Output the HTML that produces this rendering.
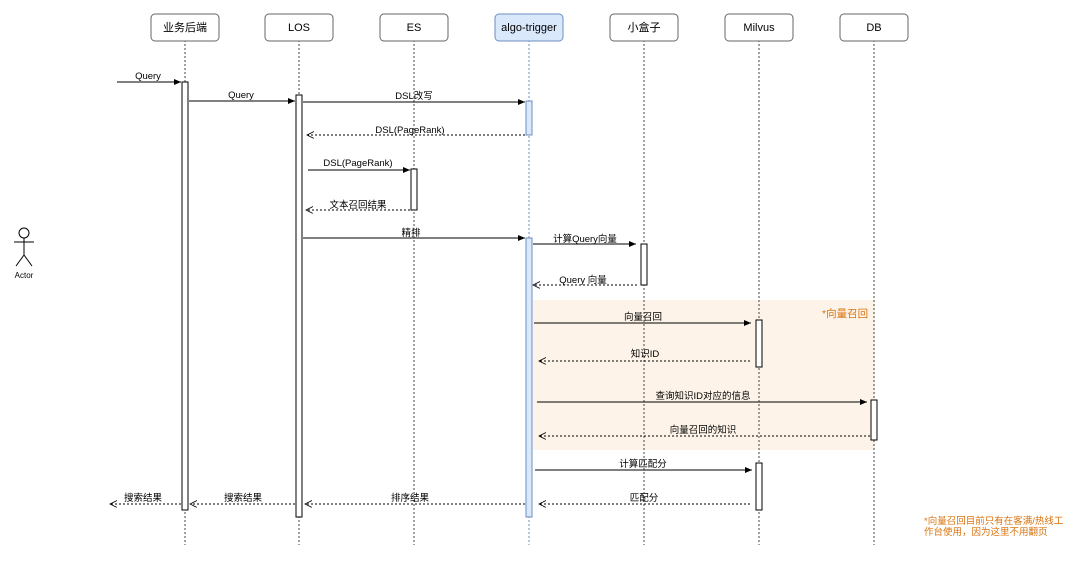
<!DOCTYPE html>
<html><head><meta charset="utf-8"><style>
body{margin:0;background:#fff;}
svg text{font-family:"Liberation Sans","Noto Sans CJK SC",sans-serif;}
</style></head><body>
<svg width="1080" height="560" xmlns="http://www.w3.org/2000/svg">
<defs>
<marker id="s" markerWidth="8" markerHeight="8" refX="7" refY="3" orient="auto" markerUnits="userSpaceOnUse"><path d="M0,0 L7,3 L0,6 z" fill="#000"/></marker>
<marker id="o" markerWidth="8" markerHeight="8" refX="7" refY="3.5" orient="auto" markerUnits="userSpaceOnUse"><path d="M0,0 L7,3.5 L0,7" fill="none" stroke="#000" stroke-width="0.8"/></marker>
</defs>
<rect x="533" y="300" width="342" height="150" fill="#fdf3e8"/>
<g stroke="#444" stroke-width="1" stroke-dasharray="2,2">
<line x1="185" y1="40" x2="185" y2="545"/><line x1="299" y1="40" x2="299" y2="545"/>
<line x1="414" y1="40" x2="414" y2="545"/><line x1="529" y1="40" x2="529" y2="545" stroke="#6c8ebf"/>
<line x1="644" y1="40" x2="644" y2="545"/><line x1="759" y1="40" x2="759" y2="545"/>
<line x1="874" y1="40" x2="874" y2="545"/>
</g>
<g stroke="#666" fill="#fff" stroke-width="1">
<rect x="151" y="14" width="68" height="27" rx="4"/><rect x="265" y="14" width="68" height="27" rx="4"/>
<rect x="380" y="14" width="68" height="27" rx="4"/><rect x="495" y="14" width="68" height="27" rx="4" fill="#dae8fc" stroke="#6c8ebf"/>
<rect x="610" y="14" width="68" height="27" rx="4"/><rect x="725" y="14" width="68" height="27" rx="4"/>
<rect x="840" y="14" width="68" height="27" rx="4"/>
</g>
<g font-size="11" text-anchor="middle" fill="#000">
<text x="185" y="31">业务后端</text><text x="299" y="31">LOS</text><text x="414" y="31">ES</text>
<text x="529" y="31">algo-trigger</text><text x="644" y="31">小盒子</text><text x="759" y="31">Milvus</text><text x="874" y="31">DB</text>
</g>
<g stroke="#000" fill="#fff" stroke-width="1">
<rect x="182" y="82" width="6" height="428"/><rect x="296" y="95" width="6" height="422"/>
<rect x="411" y="169" width="6" height="41"/><rect x="641" y="244" width="6" height="41"/>
<rect x="756" y="320" width="6" height="47"/><rect x="756" y="463" width="6" height="47"/>
<rect x="871" y="400" width="6" height="40"/>
<rect x="526" y="101" width="6" height="34" fill="#dae8fc" stroke="#6c8ebf"/>
<rect x="526" y="238" width="6" height="279" fill="#dae8fc" stroke="#6c8ebf"/>
</g>
<g stroke="#000" stroke-width="1" fill="none">
<line x1="117" y1="82" x2="181" y2="82" marker-end="url(#s)"/>
<line x1="189" y1="101" x2="295" y2="101" marker-end="url(#s)"/>
<line x1="303" y1="102" x2="525" y2="102" marker-end="url(#s)"/>
<line x1="308" y1="170" x2="410" y2="170" marker-end="url(#s)"/>
<line x1="303" y1="238" x2="525" y2="238" marker-end="url(#s)"/>
<line x1="533" y1="244" x2="636" y2="244" marker-end="url(#s)"/>
<line x1="534" y1="323" x2="751" y2="323" marker-end="url(#s)"/>
<line x1="537" y1="402" x2="867" y2="402" marker-end="url(#s)"/>
<line x1="535" y1="470" x2="752" y2="470" marker-end="url(#s)"/>
<g stroke-dasharray="2,2">
<line x1="525" y1="135" x2="307" y2="135" marker-end="url(#o)"/>
<line x1="410" y1="210" x2="306" y2="210" marker-end="url(#o)"/>
<line x1="637" y1="285" x2="533" y2="285" marker-end="url(#o)"/>
<line x1="750" y1="361" x2="539" y2="361" marker-end="url(#o)"/>
<line x1="870" y1="436" x2="539" y2="436" marker-end="url(#o)"/>
<line x1="750" y1="504" x2="539" y2="504" marker-end="url(#o)"/>
<line x1="525" y1="504" x2="305" y2="504" marker-end="url(#o)"/>
<line x1="295" y1="504" x2="190" y2="504" marker-end="url(#o)"/>
<line x1="181" y1="504" x2="110" y2="504" marker-end="url(#o)"/>
</g>
</g>
<g font-size="9.5" text-anchor="middle" fill="#000">
<text x="148" y="79">Query</text><text x="241" y="98">Query</text><text x="414" y="99">DSL改写</text>
<text x="410" y="133">DSL(PageRank)</text><text x="358" y="166">DSL(PageRank)</text><text x="358" y="208">文本召回结果</text>
<text x="411" y="236">精排</text><text x="585" y="242">计算Query向量</text><text x="583" y="283">Query 向量</text>
<text x="643" y="320">向量召回</text><text x="645" y="357">知识ID</text><text x="703" y="399">查询知识ID对应的信息</text>
<text x="703" y="433">向量召回的知识</text><text x="643" y="467">计算匹配分</text><text x="644" y="501">匹配分</text>
<text x="410" y="501">排序结果</text><text x="243" y="501">搜索结果</text><text x="143" y="501">搜索结果</text>
</g>
<g stroke="#000" fill="#fff" stroke-width="1">
<circle cx="24" cy="233" r="5"/>
<line x1="24" y1="238" x2="24" y2="255"/><line x1="14" y1="242" x2="34" y2="242"/>
<line x1="24" y1="255" x2="16" y2="266"/><line x1="24" y1="255" x2="32" y2="266"/>
</g>
<text x="24" y="278" font-size="8" text-anchor="middle">Actor</text>
<text x="822" y="317" font-size="10.5" fill="#d9730d">*向量召回</text>
<text x="924" y="524" font-size="9.5" fill="#d9730d">*向量召回目前只有在客满/热线工</text>
<text x="924" y="535" font-size="9.5" fill="#d9730d">作台使用，因为这里不用翻页</text>
</svg>
</body></html>
